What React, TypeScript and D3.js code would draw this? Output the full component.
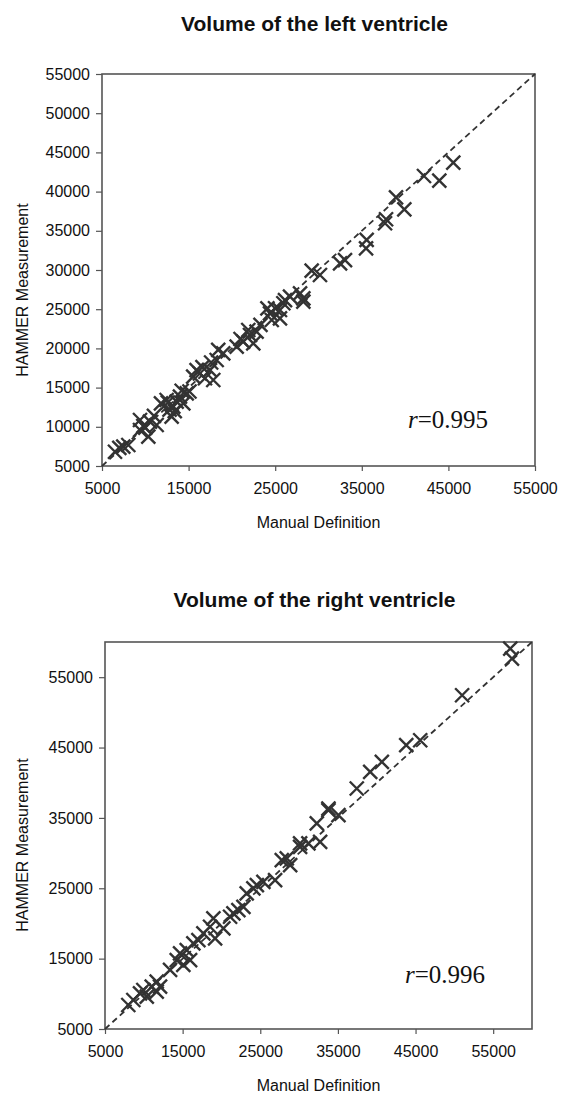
import React, { useRef, useEffect } from "react";
import * as d3 from "d3";

// left ventricle: [manual, hammer]
const leftPoints: [number, number][] = [
  [6500, 6820], [7460, 7460], [8040, 7680], [7000, 7300], [9390, 9590], [9770, 10100],
  [10540, 10650], [11310, 10230], [9390, 10870], [10350, 8740], [10000, 9900],
  [11000, 11400], [11810, 13000], [12460, 13420], [13230, 12570], [13620, 13200],
  [14000, 13840], [13040, 11290], [14780, 14270], [14390, 13000], [12800, 12200],
  [13400, 12000], [12600, 13100], [14200, 14600], [15100, 14500], [15920, 17240],
  [15530, 16390], [16890, 16190], [17850, 15970], [17470, 17240], [16300, 16800],
  [16600, 17600], [18240, 18520], [18420, 19800], [19000, 19370], [17600, 18200],
  [20550, 20220], [21310, 20860], [22090, 21710], [21890, 22350], [22850, 22130],
  [22470, 20650], [21000, 21200], [23300, 23000], [24400, 24480], [24980, 25120],
  [25550, 23840], [25940, 25760], [24600, 23620], [24100, 25100], [26710, 26600],
  [27870, 27030], [28250, 25960], [26130, 26170], [28250, 26390], [25550, 24900],
  [29210, 29910], [30170, 29360], [32490, 30850], [33060, 31270], [35490, 32770],
  [35560, 33830], [37680, 35960], [37800, 36470], [38950, 39270], [39910, 37740],
  [42180, 41990], [43950, 41390], [45565, 43686],
];

// right ventricle: [manual, hammer]
const rightPoints: [number, number][] = [
  [8000, 8410], [8650, 9120], [9510, 10070], [9940, 10540], [10380, 9590],
  [11020, 11010], [11660, 11720], [11660, 10300], [12090, 11010], [13380, 13390],
  [14240, 14800], [14670, 15750], [15090, 14100], [15960, 14800], [15530, 16220],
  [16380, 17170], [17030, 17640], [17670, 18590], [19180, 17880], [18530, 19530],
  [18960, 20720], [20250, 19300], [21110, 20950], [21540, 21430], [22180, 21900],
  [22830, 22370], [23250, 24270], [24110, 24980], [24560, 25450], [25400, 25920],
  [26910, 26160], [27770, 29000], [28850, 28290], [28410, 29240], [30130, 31370],
  [30130, 30890], [31200, 31370], [32710, 31600], [32280, 34210], [33780, 36100],
  [35070, 35390], [33780, 36340], [37430, 39180], [39160, 41540], [40660, 42960],
  [43800, 45330], [45600, 46040], [51000, 52430], [57420, 57640], [57200, 59060],
];

const leftYTicks = [5000, 10000, 15000, 20000, 25000, 30000, 35000, 40000, 45000, 50000, 55000];
const leftXTicks = [5000, 15000, 25000, 35000, 45000, 55000];
const rightTicks = [5000, 15000, 25000, 35000, 45000, 55000];

const FONT = "Arial, 'Liberation Sans', sans-serif";
const INK = "#333";

type Panel = {
  title: string;
  points: [number, number][];
  domain: [number, number];
  xTicks: number[];
  yTicks: number[];
  r: string;
  box: { left: number; right: number; top: number; bottom: number };
  titleY: number;
  yLabelY: number;
  rPos: [number, number];
};

const panels: Panel[] = [
  {
    title: "Volume of the left ventricle",
    points: leftPoints,
    domain: [5000, 55000],
    xTicks: leftXTicks,
    yTicks: leftYTicks,
    r: "=0.995",
    box: { left: 102, right: 535, top: 74, bottom: 466 },
    titleY: 31,
    yLabelY: 290,
    rPos: [408, 428],
  },
  {
    title: "Volume of the right ventricle",
    points: rightPoints,
    domain: [5000, 60000],
    xTicks: rightTicks,
    yTicks: rightTicks,
    r: "=0.996",
    box: { left: 105, right: 532, top: 642, bottom: 1029 },
    titleY: 607,
    yLabelY: 845,
    rPos: [405, 983],
  },
];

export default function App() {
  const ref = useRef<SVGSVGElement>(null);

  useEffect(() => {
    const svg = d3.select(ref.current);
    svg.selectAll("*").remove();

    panels.forEach((p) => {
      const { box } = p;
      const x = d3.scaleLinear().domain(p.domain).range([box.left, box.right]);
      const y = d3.scaleLinear().domain(p.domain).range([box.bottom, box.top]);
      const g = svg.append("g");

      // title
      g.append("text")
        .attr("x", (box.left + box.right) / 2 - 4)
        .attr("y", p.titleY)
        .attr("text-anchor", "middle")
        .attr("font-family", FONT)
        .attr("font-weight", "bold")
        .attr("font-size", 21)
        .attr("fill", "#111")
        .text(p.title);

      // frame
      g.append("rect")
        .attr("x", box.left)
        .attr("y", box.top)
        .attr("width", box.right - box.left)
        .attr("height", box.bottom - box.top)
        .attr("fill", "none")
        .attr("stroke", "#555")
        .attr("stroke-width", 1.6);

      // y axis
      const ya = g.append("g")
        .attr("transform", `translate(${box.left},0)`)
        .call(d3.axisLeft(y).tickValues(p.yTicks).tickSize(6).tickPadding(6).tickFormat(d3.format("d")));
      ya.select(".domain").remove();
      ya.selectAll("line").attr("stroke", "#555").attr("stroke-width", 1.2);
      ya.selectAll("text")
        .attr("font-family", FONT)
        .attr("font-size", 16)
        .attr("fill", "#111");

      // x axis
      const xa = g.append("g")
        .attr("transform", `translate(0,${box.bottom})`)
        .call(d3.axisBottom(x).tickValues(p.xTicks).tickSize(5).tickPadding(12).tickFormat(d3.format("d")));
      xa.select(".domain").remove();
      xa.selectAll("line").attr("stroke", "#555").attr("stroke-width", 1.2);
      xa.selectAll("text")
        .attr("font-family", FONT)
        .attr("font-size", 16)
        .attr("fill", "#111");

      // axis labels
      g.append("text")
        .attr("x", (box.left + box.right) / 2)
        .attr("y", box.bottom + 62)
        .attr("text-anchor", "middle")
        .attr("font-family", FONT)
        .attr("font-size", 16)
        .attr("fill", "#111")
        .text("Manual Definition");

      g.append("text")
        .attr("transform", `translate(28,${p.yLabelY}) rotate(-90)`)
        .attr("text-anchor", "middle")
        .attr("font-family", FONT)
        .attr("font-size", 16)
        .attr("fill", "#111")
        .text("HAMMER Measurement");

      // identity line
      g.append("line")
        .attr("x1", x(p.domain[0]))
        .attr("y1", y(p.domain[0]))
        .attr("x2", x(p.domain[1]))
        .attr("y2", y(p.domain[1]))
        .attr("stroke", INK)
        .attr("stroke-width", 1.8)
        .attr("stroke-dasharray", "6,4");

      // markers
      const s = 7;
      g.append("g")
        .selectAll("path")
        .data(p.points)
        .enter()
        .append("path")
        .attr("d", (d) => {
          const cx = x(d[0]);
          const cy = y(d[1]);
          return `M${cx - s},${cy - s}L${cx + s},${cy + s}M${cx - s},${cy + s}L${cx + s},${cy - s}`;
        })
        .attr("stroke", INK)
        .attr("stroke-width", 2.4)
        .attr("fill", "none");

      // correlation
      const rt = g.append("text")
        .attr("x", p.rPos[0])
        .attr("y", p.rPos[1])
        .attr("font-family", "'Times New Roman', 'Liberation Serif', serif")
        .attr("font-size", 25)
        .attr("fill", "#111");
      rt.append("tspan").attr("font-style", "italic").text("r");
      rt.append("tspan").text(p.r);
    });
  }, []);

  return (
    <svg
      ref={ref}
      width={573}
      height={1094}
      style={{ position: "absolute", left: 0, top: 0, background: "#fff" }}
    />
  );
}
